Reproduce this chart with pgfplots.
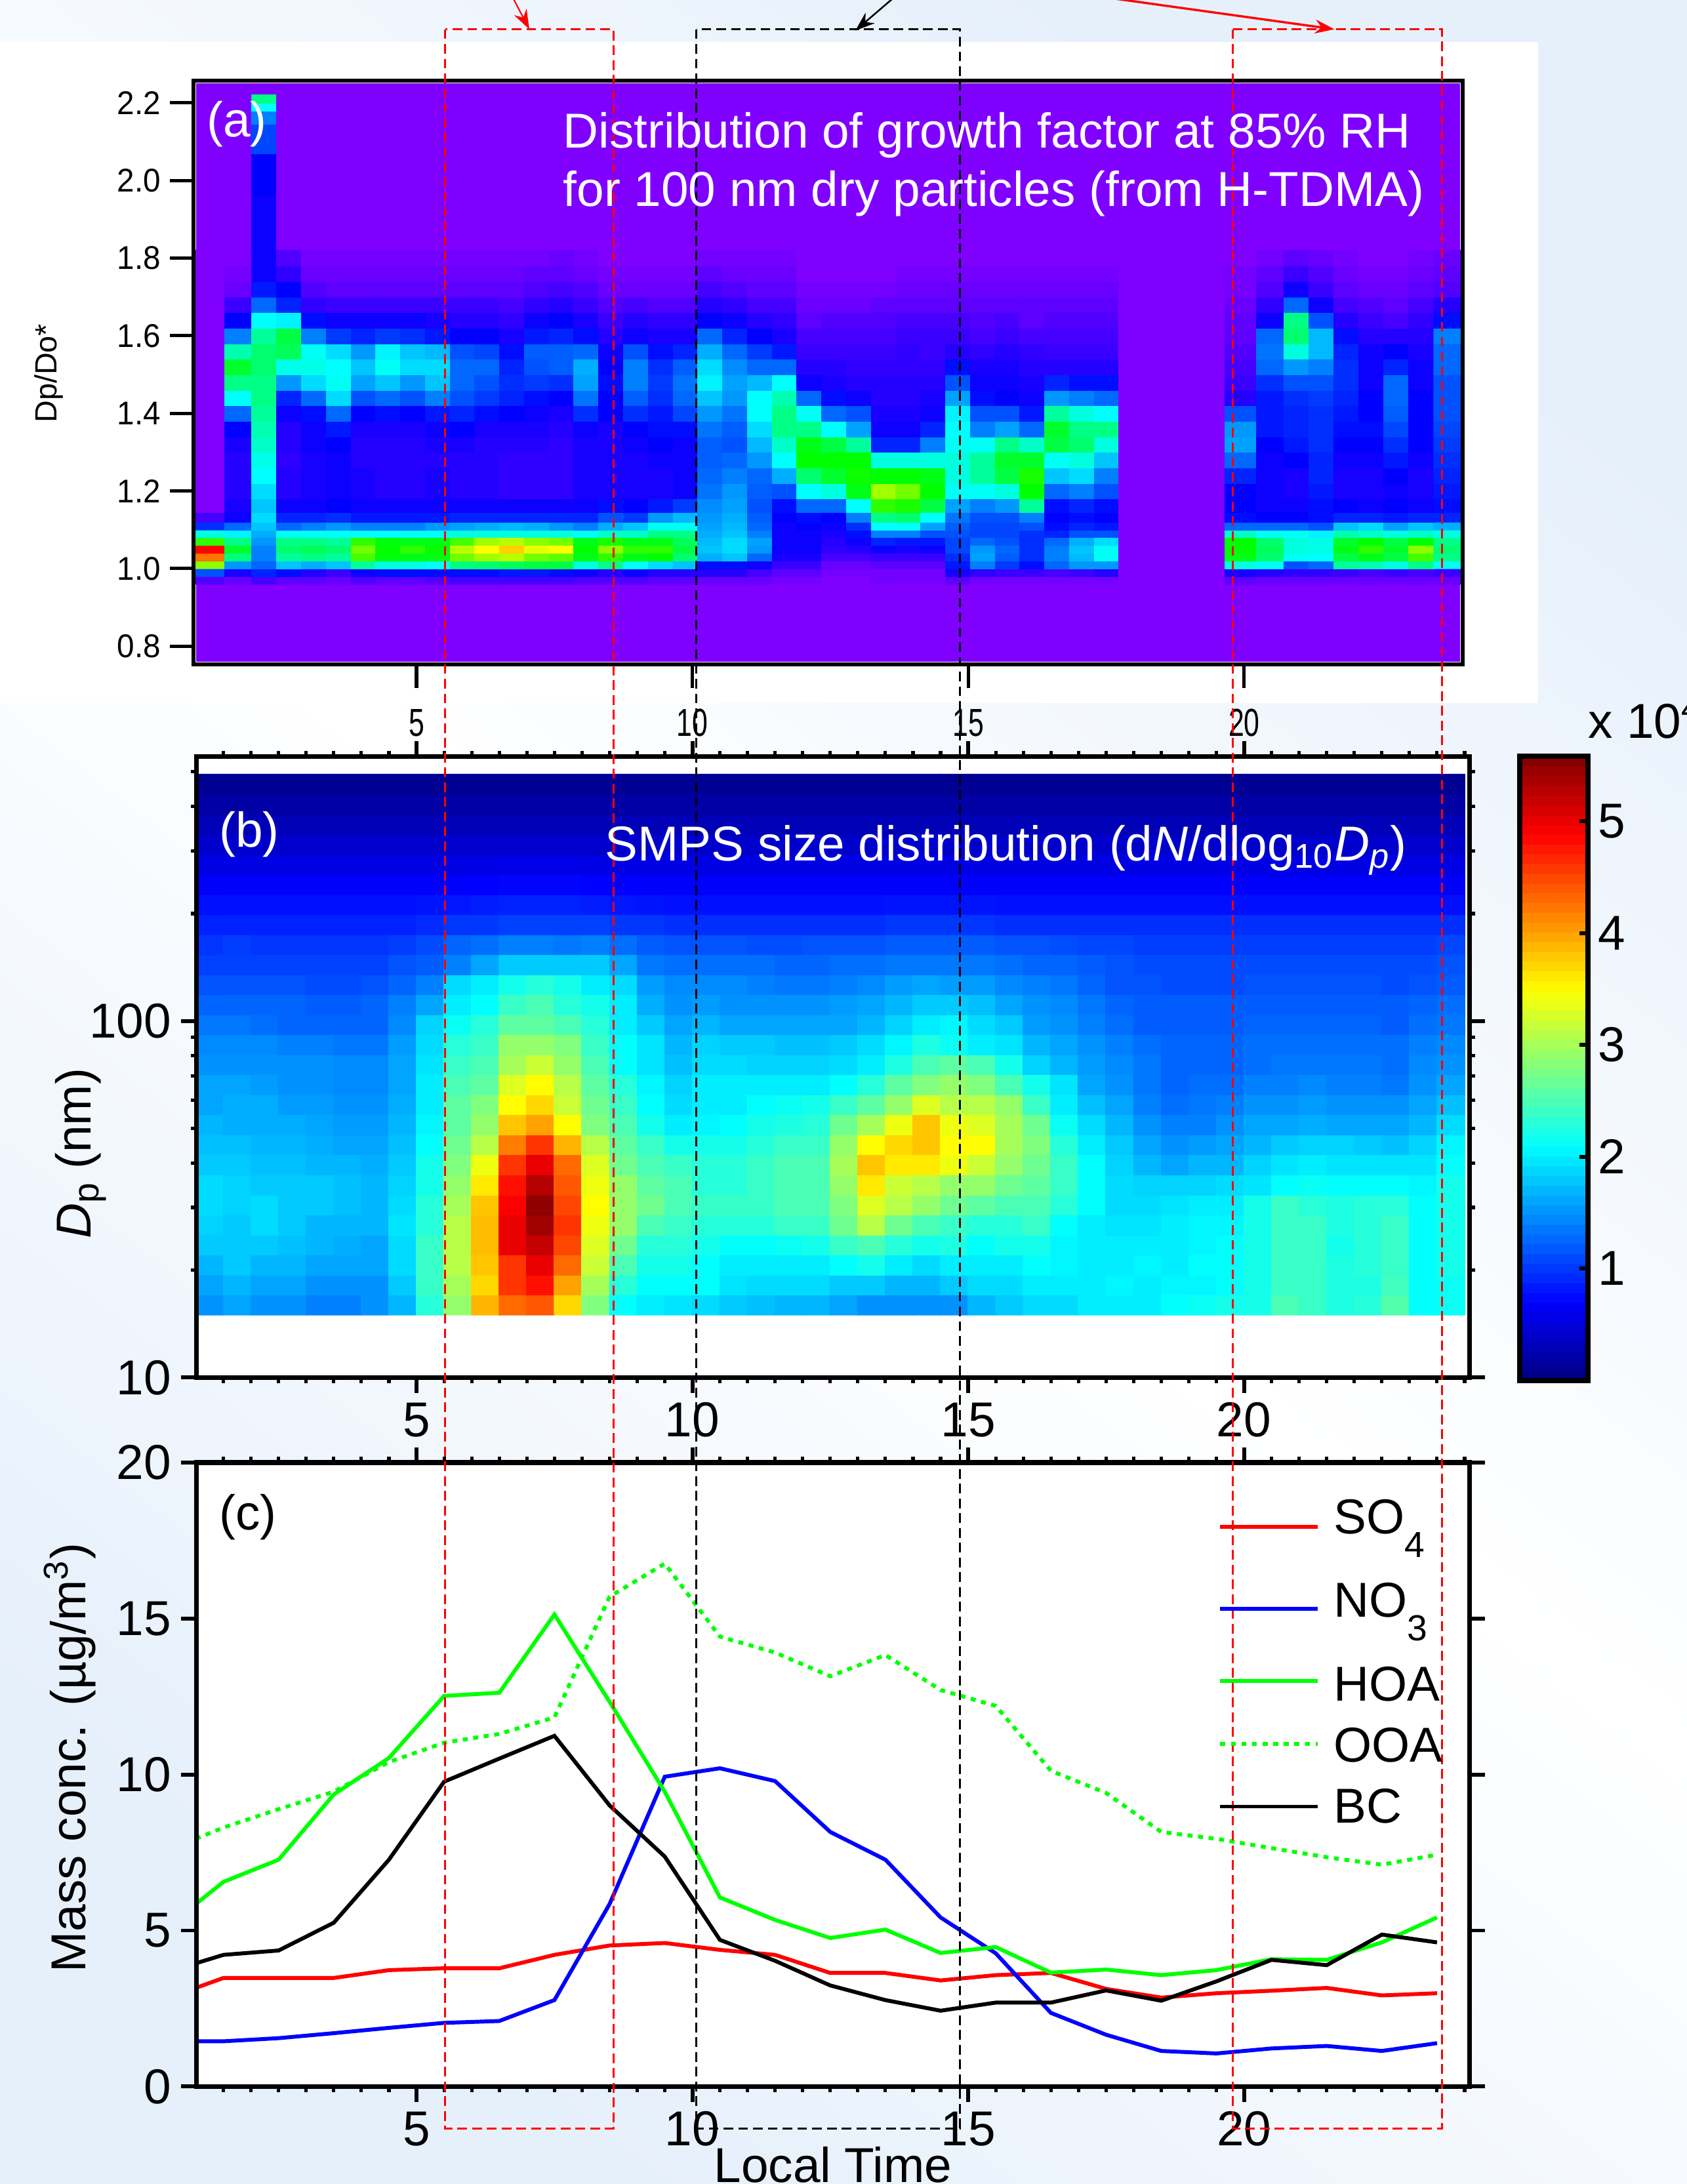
\documentclass[border=0pt]{standalone}
\usepackage{fontspec}
\usepackage{pgfplots}
\pgfplotsset{compat=1.18}
\usetikzlibrary{arrows.meta}
\setmainfont{Liberation Sans}
\newcommand\fa{\fontsize{17.6}{21}\selectfont}
\newcommand\fb{\fontsize{11.8}{14}\selectfont}
% ---------- panel (a): one line per time column, values bottom to top
\def\ysA{{0.97,0.99,1.01,1.03,1.05,1.07,1.09,1.11,1.13,1.16,1.20,1.24,1.28,1.32,1.36,1.40,1.44,1.48,1.52,1.56,1.60,1.64,1.68,1.72}}
\gdef\accA{}
\foreach \x/\vals in {
1.25/{4,18,68,90,100,60,36,15,5,0,0,0,0,0,0,0,0,0,0,0,0,0,0,0},
1.795/{2,9,24,45,52,44,32,20,10,9,8,8,8,9,11,20,33,44,52,40,22,11,6,2},
2.244/{5,14,20,22,22,24,26,28,30,28,30,33,35,38,40,42,44,44,46,46,42,33,20,13},
2.693/{3,12,28,42,46,44,34,20,14,10,8,8,7,8,8,10,14,24,35,48,50,32,14,11},
3.142/{3,8,26,44,48,44,34,22,14,10,9,9,9,10,10,12,20,30,35,34,22,12,7,4},
3.591/{2,6,28,42,46,42,34,24,15,11,10,10,10,11,13,20,30,34,33,30,16,10,6,3},
4.04/{4,10,42,62,66,60,34,22,13,10,9,9,8,8,9,11,18,25,28,24,14,10,6,3},
4.489/{3,12,36,55,56,55,33,22,13,10,8,8,8,8,9,12,20,28,34,32,16,10,6,3},
4.938/{3,12,36,54,60,54,34,22,13,10,8,8,8,8,9,11,18,24,30,28,15,10,6,3},
5.387/{4,12,34,54,56,54,34,24,13,10,9,9,8,9,10,13,22,28,30,27,13,9,6,3},
5.836/{5,12,45,66,72,62,36,25,14,10,8,8,8,9,11,14,18,20,20,18,11,8,6,3},
6.285/{5,12,46,70,78,70,36,26,14,10,8,8,8,8,9,12,16,18,20,17,11,8,6,3},
6.734/{5,13,48,72,82,72,36,27,14,10,7,7,7,8,9,11,14,15,14,12,9,7,5,3},
7.183/{5,13,50,66,76,68,36,26,14,10,7,7,7,8,9,10,12,16,18,19,13,10,7,4},
7.632/{5,12,50,64,78,66,36,24,14,10,7,7,7,7,8,9,11,15,19,19,14,11,8,5},
8.081/{4,10,36,54,56,54,34,22,14,10,9,9,9,9,10,15,21,25,26,20,12,9,6,4},
8.53/{4,8,44,60,68,58,38,26,18,12,9,9,9,9,9,11,11,12,11,10,8,6,4,2},
8.979/{4,10,34,54,60,54,38,28,16,11,9,9,9,10,11,15,19,22,22,18,10,8,5,2},
9.428/{3,8,30,56,60,54,44,34,24,13,9,9,10,11,12,13,15,16,15,12,9,7,4,2},
9.877/{3,8,28,46,50,48,44,34,27,16,10,10,10,10,12,17,20,21,19,14,9,7,4,2},
10.326/{2,8,12,26,28,27,26,25,24,23,21,20,19,19,21,24,28,32,30,26,20,11,8,5},
10.775/{2,8,12,28,30,30,28,27,26,25,24,22,20,18,19,21,24,25,23,20,14,10,7,4},
11.224/{2,5,10,20,24,25,22,20,19,18,19,20,24,27,30,33,33,27,20,16,11,8,5,3},
11.673/{1,3,6,9,10,10,10,10,11,12,18,26,33,38,44,44,40,33,20,13,9,7,5,3},
12.122/{1,3,6,9,10,10,10,11,12,20,33,46,56,54,44,34,20,10,8,6,5,3,2,1},
12.571/{0,1,2,5,7,8,9,10,11,20,36,52,56,50,33,20,12,9,8,6,5,4,2,1},
13.02/{0,1,2,5,8,10,12,15,22,33,54,57,56,42,25,18,10,8,7,6,5,4,2,1},
13.469/{1,1,3,6,10,14,22,33,44,60,70,56,36,14,10,9,8,8,7,6,5,4,3,1},
13.918/{1,1,3,6,9,13,22,34,46,58,66,56,36,14,10,9,8,8,7,7,6,5,3,2},
14.367/{1,1,3,6,10,13,18,25,33,50,56,54,36,22,14,10,9,8,7,6,6,5,3,2},
14.816/{3,9,13,15,17,17,18,19,21,25,34,36,36,34,33,32,25,18,12,8,6,5,3,2},
15.265/{1,7,22,25,24,20,17,17,18,22,34,42,42,34,22,18,12,10,9,7,5,4,3,2},
15.714/{1,6,16,19,20,18,17,17,18,24,36,50,52,44,25,18,11,10,9,8,6,5,3,2},
16.163/{1,6,12,15,15,15,15,18,22,42,56,58,52,38,20,13,10,9,8,7,5,3,3,2},
16.612/{1,5,20,22,22,20,14,12,11,12,20,28,34,50,52,42,24,14,8,6,5,4,3,2},
17.061/{1,6,24,27,28,26,18,14,12,14,22,30,36,46,44,36,22,12,8,6,5,4,3,2},
17.51/{1,8,24,34,34,30,18,13,11,12,18,22,28,36,44,33,20,12,8,6,5,4,3,2},
17.96/{0,0,0,0,0,0,0,0,0,0,0,0,0,0,0,0,0,0,0,0,0,0,0,0},
18.43/{0,0,0,0,0,0,0,0,0,0,0,0,0,0,0,0,0,0,0,0,0,0,0,0},
18.9/{0,0,0,0,0,0,0,0,0,0,0,0,0,0,0,0,0,0,0,0,0,0,0,0},
19.37/{0,0,0,0,0,0,0,0,0,0,0,0,0,0,0,0,0,0,0,0,0,0,0,0},
19.95/{3,9,36,54,56,56,38,20,12,11,11,14,20,25,24,18,8,6,5,4,3,3,2,1},
20.5/{2,8,34,46,48,46,34,20,11,10,10,10,10,11,13,13,13,15,20,21,20,10,7,4},
20.95/{2,7,18,34,36,36,34,20,11,10,9,9,11,13,14,14,15,18,24,36,46,44,20,10},
21.4/{2,7,20,33,35,35,32,18,12,12,13,14,14,15,15,15,16,18,22,27,27,18,10,6},
21.85/{2,6,42,50,54,52,40,28,14,11,9,9,10,11,12,13,14,15,15,14,12,8,5,3},
22.3/{2,5,40,54,60,56,38,30,14,10,9,9,10,11,12,11,11,10,10,10,8,6,4,2},
22.77/{2,6,36,50,52,50,36,25,13,11,10,11,13,15,17,19,20,20,14,11,8,5,3,2},
23.2/{2,5,44,62,68,56,38,28,14,10,9,9,10,11,11,11,11,10,10,9,8,7,5,3},
23.68/{2,6,34,44,46,44,36,26,14,12,13,14,15,16,17,18,18,18,20,20,22,12,8,4}%
}{\foreach \v [count=\j from 0] in \vals {\pgfmathsetmacro\yy{\ysA[\j]}\xdef\accA{\accA (\x,\yy) [\v]}}}
% the fade above the main block: values at 1.76 and 1.80
\gdef\accF{}
\foreach \x/\a/\b in {1.25/0/0,1.795/1/0,2.244/10/10,2.693/7/4,3.142/2/1,3.591/2/1,4.04/2/1,4.489/2/1,4.938/2/1,5.387/2/1,5.836/2/1,6.285/2/1,6.734/2/1,7.183/3/1,7.632/3/2,8.081/2/1,8.53/1/0,8.979/1/0,9.428/1/0,9.877/1/0,10.326/3/1,10.775/2/1,11.224/2/1,11.673/2/1,12.122/0/0,12.571/0/0,13.02/0/0,13.469/0/0,13.918/1/0,14.367/1/0,14.816/1/0,15.265/1/0,15.714/1/0,16.163/1/0,16.612/1/0,17.061/1/0,17.51/1/0,17.96/0/0,18.43/0/0,18.9/0/0,19.37/0/0,19.95/1/0,20.5/3/1,20.95/6/3,21.4/4/2,21.85/2/1,22.3/1/0,22.77/1/0,23.2/2/1,23.68/3/2}
{\xdef\accF{\accF (\x,1.76) [\a] (\x,1.80) [\b]}}
% the tall spike
\def\ysS{{1.78,1.82,1.9,2.02,2.12,2.17,2.19,2.21}}
\gdef\accS{}
\foreach \x/\vals in {1.795/{0,0,0,0,0,0,0,0},2.244/{10,10,10,11,17,22,33,44},2.693/{0,0,0,0,0,0,0,0}}
{\foreach \v [count=\j from 0] in \vals {\pgfmathsetmacro\yy{\ysS[\j]}\xdef\accS{\accS (\x,\yy) [\v]}}}
% ---------- panel (b): y is log10 of the diameter in nm
\def\ysB{{1.2039,1.2600,1.3161,1.3723,1.4284,1.4845,1.5407,1.5968,1.6529,1.7091,1.7652,1.8213,1.8775,1.9336,1.9897,2.0459,2.1020,2.1581,2.2143,2.2704,2.3265,2.3827,2.4388,2.4949,2.5511,2.6072,2.6633}}
\gdef\accB{}
\foreach \x/\vals in {
1.25/{1.5,1.6,1.7,1.8,1.85,1.9,1.9,1.8,1.75,1.7,1.6,1.6,1.5,1.45,1.35,1.25,1.15,1.05,0.98,0.88,0.78,0.68,0.55,0.42,0.3,0.2,0.1},
1.75/{1.6,1.7,1.8,1.8,1.8,1.85,1.85,1.8,1.75,1.65,1.65,1.6,1.5,1.45,1.35,1.25,1.15,1.05,1.03,0.88,0.78,0.68,0.55,0.42,0.3,0.2,0.1},
2.25/{1.5,1.6,1.7,1.8,1.9,1.9,1.8,1.75,1.7,1.65,1.65,1.55,1.5,1.45,1.3,1.25,1.15,1.05,0.98,0.88,0.78,0.68,0.55,0.42,0.3,0.2,0.1},
2.75/{1.5,1.6,1.7,1.75,1.8,1.8,1.8,1.75,1.7,1.65,1.55,1.5,1.5,1.4,1.25,1.25,1.15,1.05,0.98,0.88,0.78,0.68,0.55,0.42,0.3,0.2,0.1},
3.25/{1.4,1.5,1.6,1.7,1.7,1.8,1.8,1.7,1.65,1.6,1.55,1.5,1.5,1.4,1.25,1.2,1.1,1.05,0.98,0.88,0.78,0.68,0.55,0.42,0.3,0.2,0.1},
3.75/{1.4,1.5,1.6,1.65,1.7,1.75,1.75,1.7,1.6,1.55,1.5,1.45,1.45,1.35,1.25,1.2,1.1,1.05,0.98,0.88,0.78,0.68,0.55,0.42,0.3,0.2,0.1},
4.25/{1.5,1.5,1.6,1.6,1.7,1.7,1.7,1.65,1.6,1.55,1.5,1.45,1.45,1.35,1.25,1.25,1.15,1.05,0.98,0.88,0.78,0.68,0.55,0.42,0.3,0.2,0.1},
4.75/{1.7,1.8,1.9,1.9,1.95,1.9,1.85,1.8,1.75,1.7,1.65,1.6,1.6,1.55,1.45,1.4,1.25,1.15,1.03,0.88,0.78,0.68,0.55,0.42,0.3,0.2,0.1},
5.25/{2.3,2.4,2.4,2.4,2.3,2.3,2.2,2.2,2.1,2.05,2.0,2.0,1.95,1.9,1.85,1.6,1.4,1.2,1.1,0.93,0.8,0.68,0.55,0.42,0.3,0.2,0.1},
5.75/{2.9,3.0,3.1,3.1,3.1,3.0,2.9,2.8,2.7,2.6,2.6,2.5,2.4,2.3,2.15,2.0,1.9,1.4,1.25,1.0,0.82,0.68,0.55,0.42,0.3,0.2,0.1},
6.25/{3.9,3.7,3.8,3.85,3.85,3.8,3.6,3.4,3.1,2.9,2.8,2.6,2.5,2.4,2.3,2.1,2.0,1.6,1.3,1.0,0.85,0.7,0.55,0.42,0.3,0.2,0.1},
6.75/{4.3,4.6,4.6,5.0,5.0,4.9,4.8,4.6,4.2,3.8,3.5,3.3,3.0,2.9,2.6,2.4,2.2,1.8,1.4,1.05,0.88,0.72,0.57,0.43,0.3,0.2,0.1},
7.25/{4.4,4.8,5.0,5.2,5.4,5.5,5.3,5.0,4.6,4.0,3.7,3.5,3.2,2.9,2.6,2.5,2.3,1.8,1.4,1.05,0.88,0.72,0.57,0.43,0.3,0.2,0.1},
7.75/{3.7,4.0,4.3,4.5,4.6,4.5,4.4,4.3,3.9,3.5,3.2,3.1,2.9,2.8,2.5,2.3,2.2,1.8,1.35,1.05,0.88,0.72,0.57,0.43,0.3,0.2,0.1},
8.25/{2.8,3.0,3.2,3.3,3.4,3.5,3.4,3.3,3.1,2.8,2.7,2.6,2.5,2.4,2.3,2.2,2.0,1.8,1.4,1.05,0.85,0.7,0.55,0.42,0.3,0.2,0.1},
8.75/{2.1,2.3,2.5,2.7,2.9,2.9,2.9,2.7,2.6,2.5,2.4,2.3,2.1,2.1,2.0,2.0,1.9,1.6,1.3,1.0,0.82,0.7,0.55,0.42,0.3,0.2,0.1},
9.25/{2.0,2.1,2.2,2.3,2.5,2.7,2.6,2.5,2.4,2.2,2.1,2.05,1.95,1.95,1.8,1.65,1.55,1.35,1.2,1.0,0.8,0.68,0.55,0.42,0.3,0.2,0.1},
9.75/{1.95,2.1,2.2,2.3,2.4,2.5,2.5,2.4,2.2,2.0,1.9,1.85,1.75,1.7,1.6,1.5,1.45,1.3,1.15,0.95,0.78,0.68,0.55,0.42,0.3,0.2,0.1},
10.25/{1.9,2.1,2.1,2.2,2.3,2.4,2.3,2.3,2.2,2.05,2.0,2.0,1.9,1.85,1.7,1.55,1.45,1.3,1.15,0.95,0.78,0.68,0.55,0.42,0.3,0.2,0.1},
10.75/{1.8,1.95,2.0,2.1,2.3,2.4,2.3,2.3,2.2,2.1,2.0,2.0,1.9,1.8,1.6,1.5,1.45,1.3,1.15,0.95,0.78,0.68,0.55,0.42,0.3,0.2,0.1},
11.25/{1.75,1.9,2.0,2.1,2.3,2.4,2.4,2.4,2.3,2.2,2.1,2.0,1.85,1.8,1.6,1.5,1.4,1.3,1.12,0.95,0.78,0.68,0.55,0.42,0.3,0.2,0.1},
11.75/{1.7,1.9,2.0,2.15,2.4,2.5,2.5,2.5,2.4,2.25,2.15,2.0,1.85,1.75,1.6,1.5,1.35,1.25,1.12,0.95,0.78,0.68,0.55,0.42,0.3,0.2,0.1},
12.25/{1.7,1.9,2.0,2.2,2.4,2.5,2.5,2.5,2.4,2.3,2.2,2.0,1.85,1.75,1.6,1.5,1.35,1.25,1.15,0.95,0.78,0.68,0.55,0.42,0.3,0.2,0.1},
12.75/{1.6,1.8,2.1,2.4,2.7,2.8,2.9,3.0,2.9,2.7,2.4,2.1,1.9,1.8,1.6,1.55,1.4,1.3,1.15,0.95,0.78,0.68,0.55,0.42,0.3,0.2,0.1},
13.25/{1.5,1.8,2.2,2.5,3.1,3.3,3.6,3.8,3.5,3.0,2.6,2.3,2.0,1.9,1.7,1.6,1.45,1.3,1.15,0.95,0.78,0.68,0.55,0.42,0.3,0.2,0.1},
13.75/{1.5,1.7,2.0,2.3,2.7,3.1,3.2,3.6,3.7,3.4,2.9,2.6,2.25,2.05,1.85,1.7,1.55,1.35,1.2,1.0,0.8,0.68,0.55,0.42,0.3,0.2,0.1},
14.25/{1.5,1.7,1.9,2.2,2.5,2.9,3.1,3.6,3.8,3.8,3.3,2.8,2.5,2.25,2.0,1.8,1.6,1.35,1.2,1.0,0.8,0.68,0.55,0.42,0.3,0.2,0.1},
14.75/{1.5,1.8,2.0,2.25,2.4,2.7,2.9,3.4,3.5,3.4,3.1,2.9,2.6,2.15,2.05,1.8,1.55,1.35,1.2,1.0,0.8,0.68,0.55,0.42,0.3,0.2,0.1},
15.25/{1.7,1.9,2.0,2.1,2.3,2.6,2.9,3.2,3.5,3.3,3.1,2.8,2.5,2.0,1.9,1.75,1.55,1.35,1.2,0.98,0.8,0.68,0.55,0.42,0.3,0.2,0.1},
15.75/{1.8,1.9,2.0,2.2,2.3,2.5,2.7,2.9,3.0,3.0,2.9,2.5,2.2,1.95,1.8,1.6,1.45,1.3,1.15,0.95,0.78,0.68,0.55,0.42,0.3,0.2,0.1},
16.25/{1.9,2.0,2.1,2.2,2.4,2.5,2.6,2.7,2.8,2.7,2.4,2.2,1.85,1.7,1.55,1.5,1.4,1.25,1.15,0.95,0.78,0.68,0.55,0.42,0.3,0.2,0.1},
16.75/{1.9,2.0,2.05,2.05,2.1,2.3,2.4,2.4,2.3,2.15,2.0,1.95,1.7,1.6,1.5,1.45,1.35,1.25,1.12,0.95,0.78,0.68,0.55,0.42,0.3,0.2,0.1},
17.25/{2.0,2.0,2.0,2.0,2.0,2.1,2.1,2.1,2.0,1.9,1.75,1.6,1.55,1.5,1.4,1.35,1.25,1.2,1.08,0.95,0.78,0.68,0.55,0.42,0.3,0.2,0.1},
17.75/{2.0,2.05,2.0,2.0,1.95,1.9,1.9,1.85,1.8,1.7,1.6,1.5,1.45,1.4,1.3,1.25,1.15,1.15,1.08,0.95,0.78,0.68,0.55,0.42,0.3,0.2,0.1},
18.25/{2.0,2.0,2.05,2.0,1.95,1.9,1.85,1.7,1.6,1.5,1.4,1.35,1.35,1.3,1.2,1.2,1.15,1.1,1.03,0.95,0.78,0.68,0.55,0.42,0.3,0.2,0.1},
18.75/{2.1,2.05,2.0,2.0,2.0,1.95,1.85,1.6,1.5,1.4,1.3,1.25,1.25,1.25,1.2,1.2,1.1,1.1,1.03,0.95,0.78,0.68,0.55,0.42,0.3,0.2,0.1},
19.25/{2.15,2.05,2.1,2.05,2.05,2.0,1.85,1.7,1.55,1.4,1.35,1.3,1.25,1.25,1.2,1.2,1.1,1.1,1.03,0.95,0.78,0.68,0.55,0.42,0.3,0.2,0.1},
19.75/{2.2,2.1,2.1,2.1,2.05,2.0,1.9,1.7,1.6,1.5,1.4,1.3,1.25,1.25,1.2,1.2,1.1,1.1,1.03,0.95,0.78,0.68,0.55,0.42,0.3,0.2,0.1},
20.25/{2.2,2.2,2.2,2.2,2.2,2.2,1.95,1.85,1.7,1.6,1.5,1.4,1.3,1.3,1.25,1.2,1.15,1.1,1.03,0.95,0.78,0.68,0.55,0.42,0.3,0.2,0.1},
20.75/{2.5,2.4,2.4,2.4,2.4,2.4,2.1,1.95,1.8,1.6,1.5,1.4,1.35,1.3,1.25,1.2,1.15,1.1,1.03,0.95,0.78,0.68,0.55,0.42,0.3,0.2,0.1},
21.25/{2.4,2.4,2.4,2.4,2.4,2.3,2.15,2.0,1.85,1.65,1.55,1.45,1.35,1.3,1.25,1.2,1.15,1.1,1.03,0.95,0.78,0.68,0.55,0.42,0.3,0.2,0.1},
21.75/{2.25,2.25,2.25,2.2,2.25,2.25,2.1,1.95,1.85,1.6,1.5,1.4,1.35,1.3,1.25,1.2,1.15,1.1,1.03,0.95,0.78,0.68,0.55,0.42,0.3,0.2,0.1},
22.25/{2.3,2.25,2.3,2.3,2.3,2.3,2.1,1.95,1.8,1.6,1.5,1.4,1.35,1.3,1.25,1.2,1.15,1.1,1.03,0.95,0.78,0.68,0.55,0.42,0.3,0.2,0.1},
22.75/{2.55,2.45,2.4,2.4,2.4,2.3,2.1,1.95,1.75,1.6,1.5,1.35,1.3,1.3,1.2,1.2,1.1,1.1,1.03,0.95,0.78,0.68,0.55,0.42,0.3,0.2,0.1},
23.25/{2.1,2.1,2.1,2.1,2.1,2.1,2.05,1.95,1.85,1.7,1.6,1.5,1.45,1.4,1.3,1.25,1.15,1.1,1.03,0.95,0.78,0.68,0.55,0.42,0.3,0.2,0.1},
23.75/{2.15,2.15,2.2,2.2,2.2,2.2,2.2,2.1,2.05,1.9,1.75,1.6,1.5,1.45,1.35,1.3,1.2,1.15,1.08,0.95,0.78,0.68,0.55,0.42,0.3,0.2,0.1}%
}{\foreach \v [count=\j from 0] in \vals {\pgfmathsetmacro\yy{\ysB[\j]}\xdef\accB{\accB (\x,\yy) [\v]}}}
% ---------- colour bar levels
\gdef\accC{}
\foreach \v in {0.04,0.13,0.22,0.31,0.39,0.48,0.57,0.65,0.74,0.83,0.92,1.00,1.09,1.18,1.27,1.35,1.44,1.53,1.61,1.70,1.79,1.88,1.96,2.05,2.14,2.22,2.31,2.40,2.49,2.57,2.66,2.75,2.83,2.92,3.01,3.10,3.18,3.27,3.36,3.44,3.53,3.62,3.71,3.79,3.88,3.97,4.05,4.14,4.23,4.32,4.40,4.49,4.58,4.67,4.75,4.84,4.93,5.01,5.10,5.19,5.28,5.36,5.45,5.54}
{\xdef\accC{\accC (0,\v) [\v] (1,\v) [\v]}}
\newcommand\plotA[1]{\addplot[matrix plot*,mesh/ordering=y varies,mesh/rows=24,mesh/cols=50,point meta=explicit] coordinates {#1};}
\newcommand\plotF[1]{\addplot[matrix plot*,mesh/ordering=y varies,mesh/rows=2,mesh/cols=50,point meta=explicit] coordinates {#1};}
\newcommand\plotS[1]{\addplot[matrix plot*,mesh/ordering=y varies,mesh/rows=8,mesh/cols=3,point meta=explicit] coordinates {#1};}
\newcommand\plotB[1]{\addplot[matrix plot*,mesh/ordering=y varies,mesh/rows=27,mesh/cols=46,point meta=explicit] coordinates {#1};}
\newcommand\plotC[1]{\addplot[matrix plot*,mesh/rows=64,mesh/cols=2,point meta=explicit] coordinates {#1};}
\definecolor{bgblue}{HTML}{E6F0FB}
\definecolor{gfpurple}{RGB}{128,0,255}
\pgfplotsset{
  common/.style={scale only axis,axis on top,tick align=outside,
    xtick pos=both,ytick pos=both,
    axis line style={line width=1.7pt},
    major tick style={line width=1.4pt,black},
    minor tick style={line width=1.2pt,black},
    xticklabel pos=lower,yticklabel pos=left,
    xtick={5,10,15,20},xticklabels={5,10,15,20},
    minor xtick={1.5,2,...,24},
    major tick length=5.5pt,minor tick length=2pt,
    tick label style={font=\fa},
  },
}
\begin{document}
\begin{tikzpicture}[x=0.5pt,y=-0.5pt]
\path[use as bounding box] (0,0) rectangle (1211,1568);
\shade[bottom color=bgblue,top color=bgblue,middle color=white,shading angle=-38] (0,0) rectangle (1211,1568);
\fill[white] (0,30) rectangle (1104,505);
\fill[gfpurple] (141,60) rectangle (1048,475);
% ---- (a)
\begin{axis}[scale only axis,axis on top,at={(69.5pt,-238.5pt)},anchor=south west,width=455.5pt,height=209.5pt,
  xmin=0.96,xmax=23.96,ymin=0.753,ymax=2.257,
  axis line style={line width=1.5pt},tick align=outside,xtick pos=lower,ytick pos=left,
  major tick style={line width=1.2pt,black},major tick length=8.5pt,
  xtick={5,10,15,20},xticklabels={5,10,15,20},
  ytick={0.8,1.0,1.2,1.4,1.6,1.8,2.0,2.2},yticklabels={0.8,1.0,1.2,1.4,1.6,1.8,2.0,2.2},
  tick label style={font=\fb},xticklabel style={font=\fontsize{14}{16}\selectfont,xscale=0.72,yshift=-4pt},yticklabel style={xscale=0.95},
  colormap={gfrain}{rgb255(0pt)=(128,0,255) rgb255(11pt)=(0,0,255) rgb255(33pt)=(0,255,255) rgb255(56pt)=(0,255,0) rgb255(78pt)=(255,255,0) rgb255(100pt)=(255,0,0)},
  point meta min=0,point meta max=100]
\expandafter\plotA\expandafter{\accA}
\expandafter\plotS\expandafter{\accS}
\expandafter\plotF\expandafter{\accF}
\end{axis}
% ---- (b)
\begin{axis}[common,at={(70.5pt,-494.5pt)},anchor=south west,width=457pt,height=223pt,
  axis background/.style={fill=white},
  xmin=1.01,xmax=24.09,ymin=1,ymax=2.742,
  ytick={1,2},yticklabels={10,100},
  minor ytick={1.301,1.477,1.602,1.699,1.778,1.845,1.903,1.954,2.301,2.477,2.602,2.699},
  colormap/jet,point meta min=0,point meta max=5.58]
\expandafter\plotB\expandafter{\accB}
\end{axis}
% ---- colour bar
\begin{axis}[scale only axis,axis on top,at={(545.5pt,-495.5pt)},anchor=south west,width=24.5pt,height=224pt,
  xmin=0,xmax=1,ymin=0,ymax=5.58,xtick=\empty,
  ytick={1,2,3,4,5},yticklabels={1,2,3,4,5},yticklabel pos=right,
  tick align=inside,major tick length=3pt,ytick pos=right,
  axis line style={line width=1.9pt},major tick style={line width=1.4pt,black},
  tick label style={font=\fa},
  colormap/jet,point meta min=0,point meta max=5.58]
\expandafter\plotC\expandafter{\accC}
\end{axis}
% ---- (c)
\begin{axis}[common,at={(70.5pt,-749pt)},anchor=south west,width=457pt,height=224pt,
  axis background/.style={fill=white},
  xmin=1.01,xmax=24.09,ymin=0,ymax=20,
  ytick={0,5,10,15,20},yticklabels={0,5,10,15,20}]
\addplot[red,line width=1.4pt] coordinates {(1,3.16)(1.5,3.48)(2.5,3.48)(3.5,3.48)(4.5,3.73)(5.5,3.79)(6.5,3.79)(7.5,4.22)(8.5,4.52)(9.5,4.6)(10.5,4.38)(11.5,4.22)(12.5,3.64)(13.5,3.64)(14.5,3.4)(15.5,3.57)(16.5,3.64)(17.5,3.13)(18.5,2.85)(19.5,2.99)(20.5,3.07)(21.5,3.16)(22.5,2.92)(23.5,2.99)};
\addplot[blue,line width=1.4pt] coordinates {(1,1.45)(1.5,1.45)(2.5,1.55)(3.5,1.71)(4.5,1.88)(5.5,2.04)(6.5,2.1)(7.5,2.77)(8.5,5.85)(9.5,9.93)(10.5,10.2)(11.5,9.79)(12.5,8.16)(13.5,7.27)(14.5,5.42)(15.5,4.27)(16.5,2.36)(17.5,1.66)(18.5,1.14)(19.5,1.06)(20.5,1.22)(21.5,1.3)(22.5,1.14)(23.5,1.39)};
\addplot[green,line width=1.4pt] coordinates {(1,5.85)(1.5,6.56)(2.5,7.27)(3.5,9.36)(4.5,10.53)(5.5,12.52)(6.5,12.62)(7.5,15.13)(8.5,12.33)(9.5,9.45)(10.5,6.06)(11.5,5.34)(12.5,4.76)(13.5,5.03)(14.5,4.28)(15.5,4.47)(16.5,3.65)(17.5,3.75)(18.5,3.57)(19.5,3.73)(20.5,4.08)(21.5,4.06)(22.5,4.62)(23.5,5.42)};
\addplot[green,line width=1.4pt,dash pattern=on 1.8pt off 2pt] coordinates {(1,7.94)(1.5,8.3)(2.5,8.89)(3.5,9.45)(4.5,10.4)(5.5,11.02)(6.5,11.3)(7.5,11.83)(8.5,15.7)(9.5,16.76)(10.5,14.42)(11.5,13.91)(12.5,13.15)(13.5,13.83)(14.5,12.71)(15.5,12.2)(16.5,10.12)(17.5,9.41)(18.5,8.16)(19.5,7.94)(20.5,7.64)(21.5,7.35)(22.5,7.11)(23.5,7.43)};
\addplot[black,line width=1.4pt] coordinates {(1,3.95)(1.5,4.22)(2.5,4.36)(3.5,5.25)(4.5,7.27)(5.5,9.77)(6.5,10.51)(7.5,11.24)(8.5,9.01)(9.5,7.37)(10.5,4.7)(11.5,4.03)(12.5,3.24)(13.5,2.77)(14.5,2.43)(15.5,2.69)(16.5,2.69)(17.5,3.08)(18.5,2.75)(19.5,3.37)(20.5,4.06)(21.5,3.89)(22.5,4.87)(23.5,4.62)};
\end{axis}
% ---- annotations
\tikzset{dsh/.style={line width=0.7pt,dash pattern=on 3.5pt off 1.8pt}}
\draw[dsh,red] (319.5,21) rectangle (440.5,1528);
\draw[dsh,black] (500,21) rectangle (689,1528);
\draw[dsh,red] (885,21) rectangle (1035,1528);
\draw[red,line width=0.5pt,-{Stealth[length=7pt,width=5pt]}] (368,-2) -- (380,21);
\draw[black,line width=0.6pt,-{Stealth[length=7pt,width=5pt]}] (642,-2) -- (614,22);
\draw[red,line width=0.8pt,-{Stealth[length=7pt,width=5pt]}] (800,-1) -- (958,21);
% ---- texts
\tikzset{tx/.style={inner sep=0pt,font=\fa}}
\node[tx,white,anchor=west] at (148,89) {(a)};
\node[tx,white,anchor=base west] at (404,106) {Distribution of growth factor at 85\% RH};
\node[tx,white,anchor=base west] at (404,148) {for 100 nm dry particles (from H-TDMA)};
\node[tx,white,anchor=west] at (157,599) {(b)};
\node[tx,white,anchor=base west] at (434,618) {SMPS size distribution (d\textit{N}/dlog\textsubscript{10}\textit{D}\textsubscript{\textit{p}})};
\node[tx,anchor=west] at (157,1089) {(c)};
\node[inner sep=0pt,font=\fontsize{11}{13}\selectfont,rotate=90] at (35,268) {Dp/Do*};
\node[tx,rotate=90] at (58,828) {\textit{D}\raisebox{-3pt}{\fontsize{13}{13}\selectfont p} (nm)};
\node[tx,rotate=90] at (50,1262) {Mass conc. (µg/m\textsuperscript{3})};
\node[tx] at (598,1554) {Local Time};
\node[tx,anchor=base west] at (1140,530) {x 10\textsuperscript{4}};
% ---- legend
\tikzset{lg/.style={line width=1.4pt}}
\draw[lg,red] (876,1096) -- (946,1096);
\draw[lg,blue] (876,1155) -- (946,1155);
\draw[lg,green] (876,1207) -- (946,1207);
\draw[lg,green,dash pattern=on 1.8pt off 2pt] (876,1252) -- (946,1252);
\draw[lg,black] (876,1297) -- (946,1297);
\node[tx,anchor=base west] at (957,1101) {SO\raisebox{-8.5pt}{\fontsize{13}{13}\selectfont 4}};
\node[tx,anchor=base west] at (957,1161) {NO\raisebox{-8.5pt}{\fontsize{13}{13}\selectfont 3}};
\node[tx,anchor=base west] at (957,1221) {HOA};
\node[tx,anchor=base west] at (957,1265) {OOA};
\node[tx,anchor=base west] at (957,1309) {BC};
\end{tikzpicture}
\end{document}
